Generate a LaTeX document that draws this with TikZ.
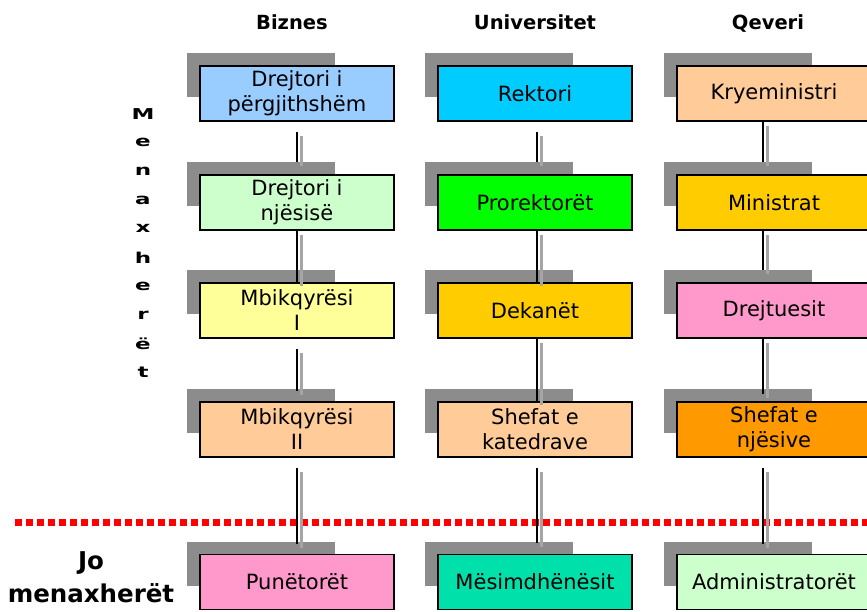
\documentclass[tikz,border=0pt]{standalone}
\usepackage{fontspec}
\setmainfont{DejaVu Sans}
\usetikzlibrary{backgrounds}
\definecolor{skyblue}{RGB}{153,204,255}
\definecolor{palegreen}{RGB}{204,255,204}
\definecolor{paleyellow}{RGB}{255,255,153}
\definecolor{peach}{RGB}{255,204,153}
\definecolor{rosepink}{RGB}{255,153,204}
\definecolor{brightcyan}{RGB}{0,204,255}
\definecolor{brightgreen}{RGB}{0,255,0}
\definecolor{goldyellow}{RGB}{255,204,0}
\definecolor{mint}{RGB}{0,224,170}
\definecolor{deeporange}{RGB}{255,153,0}
\definecolor{shadegray}{RGB}{140,140,140}
\definecolor{linkgray}{RGB}{165,165,165}
\tikzset{
          box/.style = { draw, line width=1.3pt, minimum width=194pt, minimum height=55pt, inner sep=2pt, align=center, font=\fontsize{21}{25}\selectfont },
     boxshade/.style = { fill=shadegray },
       header/.style = { anchor=base, font=\fontsize{19.5}{23}\selectfont\bfseries },
  stackletter/.style = { font=\fontsize{23}{23}\selectfont\bfseries, inner sep=0pt },
    sidelabel/.style = { font=\fontsize{24.5}{33}\selectfont\bfseries, align=center },
         link/.style = { black, line width=1.3pt },
   linkshadow/.style = { linkgray, line width=3pt },
      divider/.style = { red, line width=7pt, dash pattern=on 7pt off 4pt }
}
\begin{document}
\begin{tikzpicture}[x=1pt, y=-1pt]
  \useasboundingbox (0,0) rectangle (867,611);

  % column titles
  \node (hb) at (292,29) [header] {Biznes};
  \node (hu) at (535,29) [header] {Universitet};
  \node (hq) at (768,29) [header] {Qeveri};

  % biznes
  \node (b1) at (297,93.5)  [box,fill=skyblue]    {Drejtori i\\përgjithshëm};
  \node (b2) at (297,202.5) [box,fill=palegreen]  {Drejtori i\\njësisë};
  \node (b3) at (297,310.5) [box,fill=paleyellow] {Mbikqyrësi\\I};
  \node (b4) at (297,429.5) [box,fill=peach]      {Mbikqyrësi\\II};
  \node (b5) at (297,582)   [box,fill=rosepink]   {Punëtorët};

  % universitet
  \node (u1) at (535,93.5)  [box,fill=brightcyan]  {Rektori};
  \node (u2) at (535,202.5) [box,fill=brightgreen] {Prorektorët};
  \node (u3) at (535,310.5) [box,fill=goldyellow]  {Dekanët};
  \node (u4) at (535,429.5) [box,fill=peach]       {Shefat e\\katedrave};
  \node (u5) at (535,582)   [box,fill=mint]        {Mësimdhënësit};

  % qeveri
  \node (q1) at (774,93.5)  [box,fill=peach]      {Kryeministri};
  \node (q2) at (774,202.5) [box,fill=goldyellow] {Ministrat};
  \node (q3) at (774,310.5) [box,fill=rosepink]   {Drejtuesit};
  \node (q4) at (774,429.5) [box,fill=deeporange] {Shefat e\\njësive};
  \node (q5) at (774,582)   [box,fill=palegreen]  {Administratorët};

  % shadows
  \begin{scope}[on background layer]
    \foreach \n in {b1,b2,b3,b4,b5,u1,u2,u3,u4,u5,q1,q2,q3,q4,q5}
      \fill[boxshade] ([shift={(-12,-12)}]\n.north west) rectangle ++(148,44);
  \end{scope}

  % managers / non managers
  \coordinate (divL) at (15,522.5);
  \coordinate (divR) at (867,522.5);
  \draw[divider] (divL) -- (divR);

  \foreach \l [count=\i] in {M,e,n,a,x,h,e,r,ë,t}
    \node (m\i) at (143,{114+28.7*(\i-1)}) [stackletter] {\scalebox{1}[0.65]{\l}};
  \node (nonmgr) at (91,577) [sidelabel] {Jo\\menaxherët};

  % links
  \foreach \a/\b/\s/\e/\dx in {b1/b2/10/12/0, b2/b3/0/0/0, b3/b4/10/10/0, b4/b5/10/10/0,
                              u1/u2/10/12/2, u2/u3/0/0/2, u3/u4/0/0/2, u4/u5/10/11/2,
                              q1/q2/0/12/-11, q2/q3/0/12/-11, q3/q4/0/7/-11, q4/q5/10/10/-11} {
    \draw[linkshadow] ([xshift=\dx+4,yshift=-\s-4]\a.south) -- ([xshift=\dx+4,yshift=\e-4]\b.north);
    \draw[link] ([xshift=\dx,yshift=-\s]\a.south) -- ([xshift=\dx,yshift=\e]\b.north);
  }
\end{tikzpicture}
\end{document}
